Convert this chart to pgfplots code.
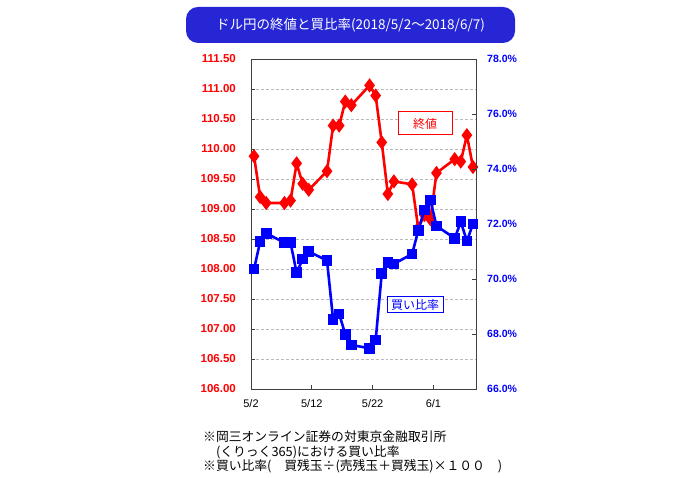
\documentclass[border=0pt]{standalone}
\usepackage{pgfplots}
\pgfplotsset{compat=1.18}
\usepackage{fontspec}
\setmainfont{Liberation Sans}
\newfontfamily\jp{Noto Sans CJK JP}
\definecolor{titleblue}{RGB}{38,38,212}

% closing price (yen), x = days after 5/2
\pgfplotstableread{
d v
0 109.88
1 109.20
2 109.10
5 109.10
6 109.14
7 109.76
8 109.42
9 109.32
12 109.63
13 110.39
14 110.39
15 110.79
16 110.73
19 111.06
20 110.89
21 110.11
22 109.25
23 109.46
26 109.41
27 108.68
28 108.90
29 108.83
30 109.60
33 109.83
34 109.79
35 110.23
36 109.70
}\closing
% buy ratio (%)
\pgfplotstableread{
d v
0 70.36
1 71.36
2 71.66
5 71.32
6 71.32
7 70.23
8 70.72
9 71.00
12 70.67
13 68.53
14 68.73
15 67.99
16 67.60
19 67.48
20 67.78
21 70.21
22 70.59
23 70.55
26 70.91
27 71.76
28 72.51
29 72.87
30 71.93
33 71.48
34 72.08
35 71.38
36 72.00
}\ratio

\begin{document}
\begin{tikzpicture}[x=1bp,y=1bp]
\useasboundingbox (0,0) rectangle (700,478);

\node[fill=titleblue, rounded corners=12bp, minimum width=329bp, minimum height=36bp,
  text=white, font=\jp\fontsize{13.5bp}{16bp}\selectfont] at (350.5,453)
  {ドル円の終値と買比率(2018/5/2～2018/6/7)};

\begin{axis}[
    at={(251bp,89bp)}, anchor=south west,
    scale only axis, width=225bp, height=330bp,
    xmin=-0.5, xmax=36.5,
    ymin=106, ymax=111.5,
    xtick={-0.5,9.5,19.5,29.5},
    xticklabels={5/2,5/12,5/22,6/1},
    ytick={106,106.5,...,111.5},
    xtick pos=bottom, ytick pos=left,
    tick align=inside, major tick length=4bp,
    axis line style={black!75, line width=0.8bp},
    tick style={black!75, line width=0.8bp},
    ymajorgrids=true,
    grid style={densely dashed, gray!55, line width=0.6bp},
    /pgf/number format/assume math mode=true,
    yticklabel={\pgfmathprintnumber[fixed,fixed zerofill,precision=2]{\tick}},
    yticklabel style={text=red, inner sep=0pt, font=\bfseries\fontsize{11.5bp}{13bp}\selectfont},
    yticklabel shift=15bp,
    xticklabel style={text=black, inner sep=0pt, font=\fontsize{11bp}{13bp}\selectfont},
    xticklabel shift=10bp,
]
\addplot[red, line width=2.6bp, mark=diamond*, mark size=5bp,
  mark options={solid, fill=red}] table[x=d, y=v] {\closing};
\end{axis}

\begin{axis}[
    at={(251bp,89bp)}, anchor=south west,
    scale only axis, width=225bp, height=330bp,
    xmin=-0.5, xmax=36.5,
    ymin=66, ymax=78,
    ytick={66,68,...,78},
    axis x line=none, axis y line*=right,
    tick align=inside, major tick length=4bp,
    axis line style={black!75, line width=0.8bp},
    tick style={black!75, line width=0.8bp},
    /pgf/number format/assume math mode=true,
    yticklabel={\pgfmathprintnumber[fixed,fixed zerofill,precision=1]{\tick}\%},
    yticklabel style={text=blue, inner sep=0pt, font=\bfseries\fontsize{10.5bp}{12bp}\selectfont},
    yticklabel shift=11bp,
]
\addplot[blue, line width=2.6bp, mark=square*, mark size=4bp,
  mark options={solid, fill=blue}] table[x=d, y=v] {\ratio};
\end{axis}

\node[draw=red, fill=white, line width=1bp, minimum width=54bp, minimum height=23bp,
  inner sep=0pt, text=red, font=\jp\fontsize{12bp}{14bp}\selectfont] at (425,354.5) {終値};
\node[draw=blue, fill=white, line width=1bp, minimum width=56bp, minimum height=16bp,
  inner sep=0pt, text=blue, font=\jp\fontsize{12bp}{14bp}\selectfont] at (415,173) {買い比率};

\node[anchor=west, inner sep=0pt, align=left, font=\jp\fontsize{12.8bp}{14.5bp}\selectfont]
  at (203,26) {※岡三オンライン証券の対東京金融取引所\\
  \hspace{12.8bp}(くりっく365)における買い比率\\
  ※買い比率(　買残玉÷(売残玉＋買残玉)×１００　)};
\end{tikzpicture}
\end{document}
